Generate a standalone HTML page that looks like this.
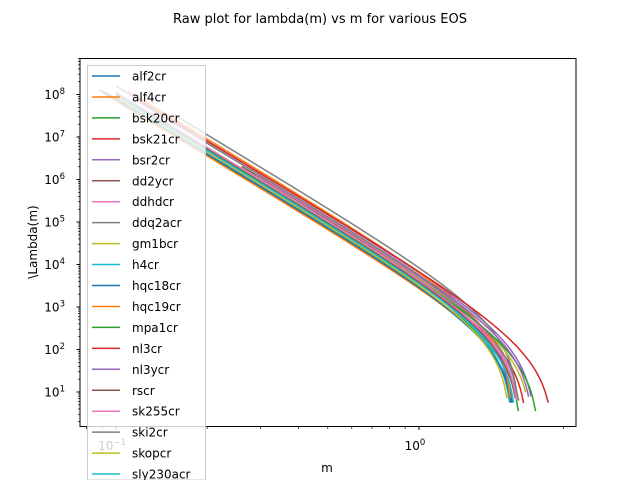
<!DOCTYPE html>
<html><head><meta charset="utf-8"><style>
html,body{margin:0;background:#fff;overflow:hidden;width:640px;height:480px;}
svg{display:block;font-family:"DejaVu Sans","Liberation Sans",sans-serif;}
</style></head><body>
<svg id="chart" width="640" height="480" viewBox="0 0 640 480">
<rect width="640" height="480" fill="#fff"/>
<text x="320" y="23" font-size="13" text-anchor="middle">Raw plot for lambda(m) vs m for various EOS</text>
<g id="plot"></g>
<rect x="80" y="58.5" width="496" height="368" fill="none" stroke="#000" stroke-width="1"/>
<g id="ticks"></g>
<text x="327" y="472" font-size="12" text-anchor="middle">m</text>
<text transform="translate(37,242) rotate(-90)" font-size="12" text-anchor="middle">\Lambda(m)</text>
<g id="legend"></g>
</svg>
<script>
const eosNames=["alf2cr","alf4cr","bsk20cr","bsk21cr","bsr2cr","dd2ycr","ddhdcr","ddq2acr","gm1bcr","h4cr","hqc18cr","hqc19cr","mpa1cr","nl3cr","nl3ycr","rscr","sk255cr","ski2cr","skopcr","sly230acr"];
const colors=["#1f77b4","#ff7f0e","#2ca02c","#d62728","#9467bd","#8c564b","#e377c2","#7f7f7f","#bcbd22","#17becf"];
const mMin=[0.088,0.09,0.095,0.1,0.1,0.26,0.29,0.155,0.1,0.1,0.092,0.11,0.1,0.12,0.12,0.12,0.1,0.12,0.1,0.11];
const mMax=[2.09,2.22,2.17,2.28,2.42,2.05,2.14,2.14,2.36,2.03,2.06,2.03,2.49,2.78,2.38,2.14,2.15,2.17,2.0,2.1];
const logL1=[3.58,3.55,3.6,3.7,3.9,3.8,3.82,4.05,3.75,3.7,3.6,3.95,3.72,3.9,3.85,3.7,3.75,3.85,3.65,3.68];
const logEnd=[0.75,0.8,0.55,0.75,0.9,0.75,0.8,0.95,1.0,0.75,0.75,0.85,0.55,0.75,0.9,0.85,0.8,0.8,0.85,0.75];
const NS="http://www.w3.org/2000/svg";
const xPx=m=>419+303*Math.log10(m);
const yPx=l=>392-42.5*(l-1);
const plot=document.getElementById('plot'),ticks=document.getElementById('ticks'),legend=document.getElementById('legend');
function mk(tag,attrs,parent){const e=document.createElementNS(NS,tag);for(const k in attrs)e.setAttribute(k,attrs[k]);parent.appendChild(e);return e;}
const clip=mk('clipPath',{id:'cp'},plot);mk('rect',{x:80,y:58,width:496,height:369},clip);
const g=mk('g',{'clip-path':'url(#cp)'},plot);
eosNames.forEach((n,i)=>{
  let pts=[];
  const N=500;
  for(let k=0;k<=N;k++){
    const m=mMin[i]*Math.pow(mMax[i]/mMin[i],k/N)*(k==N?0.99999:1);
    const x=m/mMax[i];
    let l=logL1[i]-4.3*Math.log10(m)+1.2*Math.log10(1-x*x);
    if(l<logEnd[i]){l=logEnd[i];pts.push(xPx(m).toFixed(2)+','+yPx(l).toFixed(2));break;}
    pts.push(xPx(m).toFixed(2)+','+yPx(l).toFixed(2));
  }
  const p=mk('polyline',{points:pts.join(' '),fill:'none',stroke:colors[i%10],'stroke-width':1.5},g);
  
  
});
const xMajor=[0.1,1];const xMajorExp=["−1","0"];
xMajor.forEach((v,i)=>{const x=xPx(v);mk('line',{x1:x,x2:x,y1:426.5,y2:430,stroke:'#000'},ticks);
  const t=mk('text',{x:x-4,y:450,'font-size':12,'text-anchor':'middle'},ticks);t.textContent='10';
  const s=mk('tspan',{'font-size':8.5,dy:-5},t);s.textContent=xMajorExp[i];
  });
[0.08,0.09,0.2,0.3,0.4,0.5,0.6,0.7,0.8,0.9,2,3].forEach(v=>{const x=xPx(v);if(x<80||x>576)return;mk('line',{x1:x,x2:x,y1:426.5,y2:429,stroke:'#000','stroke-width':0.7},ticks);});
const yMajor=[1,2,3,4,5,6,7,8];
yMajor.forEach(e=>{const y=yPx(e);mk('line',{x1:76.5,x2:80,y1:y,y2:y,stroke:'#000'},ticks);
  const t=mk('text',{x:65,y:y+4.5,'font-size':12,'text-anchor':'end'},ticks);t.textContent='10';
  const s=mk('tspan',{'font-size':8.5,dy:-5},t);s.textContent=String(e);
  
  for(let k=2;k<10;k++){const ym=yPx(e-1+Math.log10(k));if(ym<58||ym>426)continue;mk('line',{x1:78,x2:80,y1:ym,y2:ym,stroke:'#000','stroke-width':0.7},ticks);}
});
for(let k=2;k<10;k++){const ym=yPx(8+Math.log10(k));if(ym<58)continue;mk('line',{x1:78,x2:80,y1:ym,y2:ym,stroke:'#000','stroke-width':0.7},ticks);}
const lb=mk('rect',{x:87.5,y:65.5,width:118,height:414.5,fill:'#fff','fill-opacity':0.8,stroke:'#ccc'},legend);

eosNames.forEach((n,i)=>{const y=76+i*20.95;
  const gg=mk('g',{},legend);
  mk('line',{x1:92,x2:120,y1:y,y2:y,stroke:colors[i%10],'stroke-width':1.5},gg);
  const t=mk('text',{x:132,y:y+4.5,'font-size':12},gg);t.textContent=n;});
</script>
</body></html>
